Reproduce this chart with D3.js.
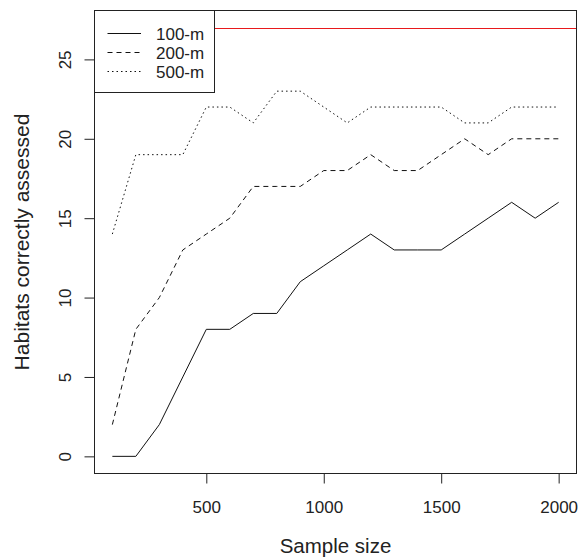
<!DOCTYPE html>
<html>
<head>
<meta charset="utf-8">
<script src="https://cdn.jsdelivr.net/npm/d3@7"></script>
<style>
  body { margin: 0; background: #fff; }
  text { font-family: "Liberation Sans", Arial, sans-serif; fill: #222; }
</style>
</head>
<body>
<svg id="chart" width="579" height="558"></svg>
<script>
// sample sizes on x
const sampleSizes = [100, 200, 300, 400, 500, 600, 700, 800, 900, 1000,
  1100, 1200, 1300, 1400, 1500, 1600, 1700, 1800, 1900, 2000];

const res100 = [0, 0, 2, 5, 8, 8, 9, 9, 11, 12, 13, 14, 13, 13, 13, 14, 15, 16, 15, 16];
const res200 = [2, 8, 10, 13, 14, 15, 17, 17, 17, 18, 18, 19, 18, 18, 19, 20, 19, 20, 20, 20];
const res500 = [14, 19, 19, 19, 22, 22, 21, 23, 23, 22, 21, 22, 22, 22, 22, 21, 21, 22, 22, 22];

const seriesNames = ["100-m", "200-m", "500-m"];
const xTicks = [500, 1000, 1500, 2000];
const yTicks = [0, 5, 10, 15, 20, 25];
const totalHabitats = 27;

const series = [
  { name: seriesNames[0], values: res100, dash: null },
  { name: seriesNames[1], values: res200, dash: "5,4" },
  { name: seriesNames[2], values: res500, dash: "1.5,3" }
];

const svg = d3.select("#chart");
const box = { left: 94.5, right: 576.5, top: 10.5, bottom: 473.5 };

// R style 4% padding on x, y set to 0..27
const x = d3.scaleLinear().domain([24, 2076]).range([box.left, box.right]);
const y = d3.scaleLinear().domain([-1.08, 28.08]).range([box.bottom, box.top]);

const line = d3.line()
  .x((d, i) => x(sampleSizes[i]))
  .y(d => y(d));

// reference line
svg.append("line")
  .attr("x1", box.left).attr("x2", box.right)
  .attr("y1", Math.round(y(totalHabitats)) + 0.5).attr("y2", Math.round(y(totalHabitats)) + 0.5)
  .attr("stroke", "#e8191c").attr("stroke-width", 1);

svg.append("g").selectAll("path")
  .data(series)
  .join("path")
  .attr("d", d => line(d.values))
  .attr("fill", "none")
  .attr("stroke", "#111")
  .attr("stroke-width", 1)
  .attr("stroke-dasharray", d => d.dash);

// axes
const xAxis = svg.append("g")
  .attr("transform", `translate(0,${box.bottom})`)
  .call(d3.axisBottom(x).tickValues(xTicks).tickSize(10).tickPadding(17).tickFormat(d3.format("d")));
xAxis.select(".domain").remove();
xAxis.selectAll("line").attr("stroke", "#222");
xAxis.selectAll("text").style("font-size", "17px").style("fill", "#222");

const yAxis = svg.append("g")
  .attr("transform", `translate(${box.left},0)`)
  .call(d3.axisLeft(y).tickValues(yTicks).tickSize(10));
yAxis.select(".domain").remove();
yAxis.selectAll("line").attr("stroke", "#222");
yAxis.selectAll("text")
  .style("font-size", "17px").style("fill", "#222")
  .attr("text-anchor", "middle")
  .attr("x", 0).attr("dy", 0)
  .attr("transform", "translate(-30,0) rotate(-90)")
  .attr("y", 6);

// legend
const legend = svg.append("g");
legend.append("rect")
  .attr("x", box.left).attr("y", box.top)
  .attr("width", 120).attr("height", 82)
  .attr("fill", "#fff").attr("stroke", "#222");

series.forEach((s, i) => {
  const ly = 33.5 + i * 19;
  legend.append("line")
    .attr("x1", 107.5).attr("x2", 141)
    .attr("y1", ly).attr("y2", ly)
    .attr("stroke", "#111").attr("stroke-dasharray", s.dash);
  legend.append("text")
    .attr("x", 156).attr("y", ly + 6)
    .style("font-size", "17px")
    .text(s.name);
});

// box
svg.append("rect")
  .attr("x", box.left).attr("y", box.top)
  .attr("width", box.right - box.left).attr("height", box.bottom - box.top)
  .attr("fill", "none").attr("stroke", "#222");

svg.append("text")
  .attr("x", (box.left + box.right) / 2).attr("y", 553)
  .attr("text-anchor", "middle")
  .style("font-size", "20.5px")
  .text("Sample size");

svg.append("text")
  .attr("transform", `translate(28.5,${(box.top + box.bottom) / 2}) rotate(-90)`)
  .attr("text-anchor", "middle")
  .style("font-size", "21px")
  .text("Habitats correctly assessed");
</script>
</body>
</html>
